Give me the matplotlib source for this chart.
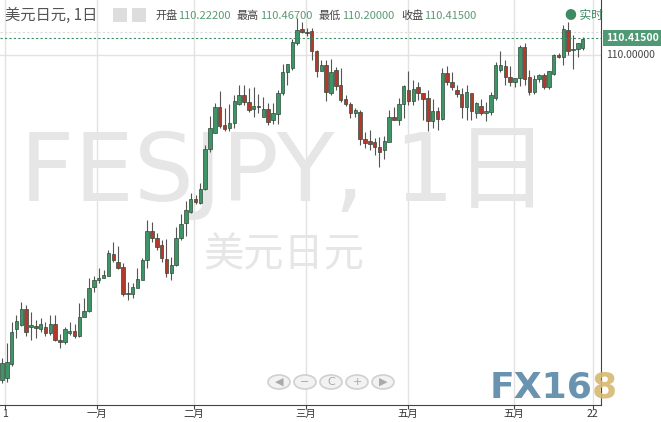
import numpy as np
import matplotlib
matplotlib.use("Agg")
import matplotlib.pyplot as plt
from matplotlib.patches import Circle, Rectangle

plt.rcParams['font.family'] = ['Noto Sans CJK SC', 'DejaVu Sans']

# candle readings, in screen pixels off the reference (y down), converted to price below
open_px = [380, 378, 364, 329, 325, 309, 327, 326, 329, 327, 333, 324, 340, 342, 333, 331, 336, 317, 311, 287,
           280, 278, 276, 254, 262, 267, 294, 294, 288, 280, 260, 231, 238, 245, 259, 273, 265, 238, 223, 212,
           199, 203, 189, 149, 133, 107, 125, 128, 123, 104, 95, 102, 109, 106, 117, 109, 120, 114, 93, 72,
           68, 43, 29, 32, 31, 51, 71, 65, 93, 70, 85, 99, 104, 113, 112, 139, 141, 142, 147, 150,
           142, 117, 120, 104, 90, 101, 87, 93, 98, 121, 111, 119, 73, 82, 90, 94, 107, 93, 113, 106,
           113, 112, 98, 70, 66, 77, 82, 78, 47, 77, 92, 79, 75, 87, 74, 55, 57, 30, 50, 49, 48]
close_px = [363, 362, 332, 321, 309, 332, 325, 328, 324, 333, 324, 340, 342, 329, 331, 336, 317, 311, 288, 280,
            278, 275, 253, 260, 268, 294, 294, 287, 279, 260, 231, 238, 247, 258, 273, 265, 238, 224, 210, 199,
            202, 189, 149, 128, 107, 126, 129, 123, 101, 95, 102, 110, 106, 107, 109, 122, 113, 93, 72, 64,
            42, 30, 32, 33, 51, 71, 65, 92, 72, 86, 100, 104, 113, 110, 139, 143, 144, 147, 152, 141,
            117, 120, 104, 86, 101, 89, 93, 99, 121, 111, 119, 73, 82, 87, 94, 107, 92, 111, 103, 113,
            111, 95, 65, 65, 77, 82, 78, 47, 79, 92, 79, 75, 87, 71, 55, 57, 29, 51, 50, 43, 39]
high_px = [358, 343, 322, 315, 302, 305, 312, 320, 318, 322, 315, 315, 334, 327, 322, 324, 303, 298, 278, 276,
           268, 270, 250, 242, 246, 263, 282, 283, 268, 258, 220, 222, 233, 240, 239, 257, 227, 214, 201, 193,
           195, 183, 145, 116, 103, 91, 108, 104, 95, 85, 85, 88, 87, 94, 97, 103, 103, 90, 64, 64,
           39, 18, 22, 28, 28, 50, 60, 60, 59, 67, 68, 95, 102, 108, 110, 132, 130, 138, 137, 136,
           110, 107, 98, 85, 71, 80, 82, 93, 90, 99, 107, 68, 66, 72, 85, 88, 85, 94, 102, 99,
           102, 92, 62, 51, 60, 66, 78, 45, 43, 70, 75, 74, 73, 71, 54, 53, 25, 22, 35, 43, 37]
low_px = [383, 382, 366, 338, 326, 336, 340, 338, 332, 336, 335, 341, 348, 344, 335, 338, 337, 315, 312, 292,
          283, 277, 255, 262, 269, 296, 300, 298, 282, 267, 268, 242, 250, 262, 277, 280, 266, 240, 236, 213,
          204, 204, 190, 152, 133, 128, 131, 131, 128, 105, 105, 112, 117, 113, 117, 125, 124, 124, 95, 85,
          70, 45, 33, 36, 60, 77, 70, 101, 95, 90, 102, 106, 118, 117, 145, 148, 150, 155, 167, 159,
          141, 120, 125, 118, 105, 105, 100, 120, 131, 128, 130, 120, 85, 90, 97, 118, 120, 120, 118, 115,
          121, 115, 100, 72, 85, 86, 87, 86, 85, 95, 94, 82, 89, 89, 75, 58, 65, 55, 69, 57, 50]

last_price = 110.415
tick_price = 110.0
month_pos = [0.6, 19.6, 39.7, 62.8, 83.9, 105.8, 122.1]
month_lab = ['1', '一月', '二月', '三月', '五月', '五月', '22']

def to_price(v):
    # reference calibration: 110.415 at y=38, 110.000 at y=55
    return last_price - (np.array(v, float) - 38) / 41.0

o, c, h, l = map(to_price, (open_px, close_px, high_px, low_px))

W, H = 661, 422
BOT = 405
fig = plt.figure(figsize=(W / 100, H / 100), dpi=100)
ax = fig.add_axes([0, (H - BOT) / H, 601 / W, BOT / H])
ax.set_xlim(-0.4, 601 / 4.84 - 0.4)
ax.set_ylim(last_price - (BOT - 38) / 41.0, last_price + 38 / 41.0)

for xp in month_pos:
    ax.axvline(xp, color='#e2e2e2', lw=1, zorder=0)
ax.axhline(tick_price, color='#e2e2e2', lw=1, zorder=0)
ax.axhline(last_price + 6 / 41.0, color='#d8d8d8', lw=0.8, ls=(0, (2, 2)), zorder=0)

ax.text(20 / 601, 1 - 175 / BOT, 'FESJPY, 1日', transform=ax.transAxes, fontsize=68, color='#e6e6e6',
        family=['DejaVu Sans', 'Noto Sans CJK SC'], va='center', ha='left', zorder=0)
ax.text(203 / 601, 1 - 255 / BOT, '美元日元', transform=ax.transAxes, fontsize=29, color='#e6e6e6',
        va='center', ha='left', zorder=0)

green, red = '#3e9467', '#b23a2c'
idx = np.arange(len(o))
for i in idx:
    up = c[i] >= o[i]
    ax.vlines(i, l[i], h[i], color='#555555', lw=0.8, zorder=2)
    bot, top = min(o[i], c[i]), max(o[i], c[i])
    ax.add_patch(Rectangle((i - 0.36, bot), 0.72, max(top - bot, 0.02),
                           facecolor=green if up else red, edgecolor='#2e4a3a', lw=0.5, zorder=3))

ax.axhline(last_price, color='#3e8a64', lw=0.8, ls=(0, (2, 2)), zorder=4)
ax.set_xticks(month_pos)
ax.set_xticklabels(month_lab, fontsize=7.5, color='#333333')
ax.tick_params(axis='x', length=3, pad=0, color='#444444')
ax.set_yticks([])
for s in ['top', 'left']:
    ax.spines[s].set_visible(False)
ax.spines['bottom'].set_color('#444444')
ax.spines['right'].set_color('#444444')

# right price labels
fy = lambda y: 1 - y / H
fig.patches.append(Rectangle((603 / W, fy(46)), 58 / W, 16 / H, transform=fig.transFigure,
                             facecolor='#4f9a74', edgecolor='none'))
fig.text(606 / W, fy(38), '110.41500', color='white', fontsize=7.5, va='center', weight='bold')
fig.text(606 / W, fy(55), '110.00000', color='#444444', fontsize=7.5, va='center')

# header
fig.text(5 / W, fy(15), '美元日元, 1日', fontsize=11, color='#555555', va='center')
for gx in [113, 132]:
    fig.patches.append(Rectangle((gx / W, fy(22)), 14 / W, 14 / H, transform=fig.transFigure,
                                 facecolor='#dddddd', edgecolor='none'))
x0 = 155
for lab, val in [('开盘', '110.22200'), ('最高', '110.46700'), ('最低', '110.20000'), ('收盘', '110.41500')]:
    fig.text(x0 / W, fy(16), lab, fontsize=8, color='#444444', va='center')
    fig.text((x0 + 23) / W, fy(16), val, fontsize=8, color='#5a9a74', va='center')
    x0 += 82
fig.text(565 / W, fy(15), '● 实时', fontsize=8.5, color='#3e8a64', va='center')

# navigation buttons
for bx, sym in zip([279, 305, 331, 357, 383], ['◀', '−', 'C', '+', '▶']):
    fig.patches.append(Circle((bx / W, fy(382)), 11 / W, transform=fig.transFigure,
                              facecolor='#f2f2f2', edgecolor='#d0d0d0', lw=1.2))
    fig.text(bx / W, fy(382), sym, fontsize=8, color='#aaaaaa', ha='center', va='center',
             family=['DejaVu Sans'])

# logo
fig.text(490 / W, fy(388), 'FX16', fontsize=26, weight='bold', color='#5a87a8', va='center',
         family=['DejaVu Sans'], alpha=0.9)
fig.text(592 / W, fy(388), '8', fontsize=26, weight='bold', color='#d8b870', va='center',
         family=['DejaVu Sans'], alpha=0.9)

fig.savefig('out.png', dpi=100)
